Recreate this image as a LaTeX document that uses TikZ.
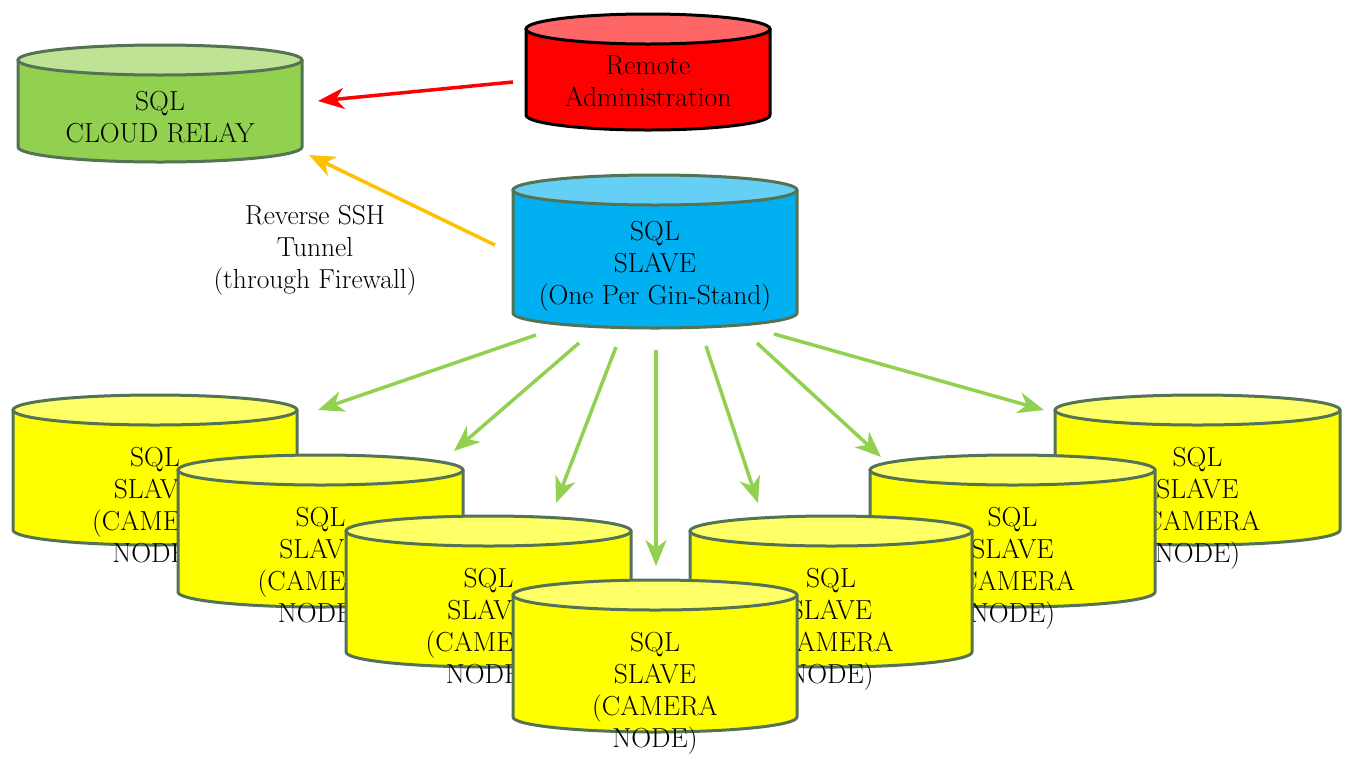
\documentclass[tikz,border=0pt]{standalone}
\usetikzlibrary{arrows.meta}
\definecolor{cborder}{RGB}{84,114,84}
\definecolor{cgreen}{HTML}{92D050}
\definecolor{cgreentop}{HTML}{BEE395}
\definecolor{cred}{HTML}{FF0000}
\definecolor{credtop}{HTML}{FF6666}
\definecolor{cblue}{HTML}{00B0F0}
\definecolor{cbluetop}{HTML}{66CFF5}
\definecolor{cyel}{HTML}{FFFF00}
\definecolor{cyeltop}{HTML}{FFFF66}
\definecolor{corange}{HTML}{FFC000}
\newcommand\dbcyl[7]{% #1 L, #2 R, #3 top, #4 bottom, #5 body, #6 top fill, #7 border
  \pgfmathsetmacro\cylcx{(#1+#2)/2}%
  \pgfmathsetmacro\cylrx{(#2-#1)/2}%
  \pgfmathsetmacro\cylyt{#3+15}%
  \pgfmathsetmacro\cylyb{#4-15}%
  \filldraw[draw=#7, fill=#5, line width=3pt, line join=round]
    (#1,\cylyt) -- (#1,\cylyb) arc[start angle=180, end angle=0, x radius=\cylrx, y radius=15]
    -- (#2,\cylyt) -- cycle;
  \filldraw[draw=#7, fill=#6, line width=3pt] (\cylcx,\cylyt) ellipse[x radius=\cylrx, y radius=15];
}
\tikzset{
  lbl/.style={align=center, inner sep=0pt, font=\fontsize{27.5}{32}\selectfont},
  conn/.style={line width=3.5pt, -{Stealth[length=26pt, width=21pt, inset=8pt]}},
}
\begin{document}
\begin{tikzpicture}[x=1pt, y=1pt, yscale=-1]
\useasboundingbox (0,0) rectangle (1351,756);

% cloud relay
\dbcyl{18}{302}{45}{162}{cgreen}{cgreentop}{cborder}
\node[lbl] (cloud) at (160,117) {SQL\\CLOUD RELAY};
% remote administration
\dbcyl{526}{770}{14}{130}{cred}{credtop}{black}
\node[lbl] (remote) at (648,81) {Remote\\Administration};
% master slave
\dbcyl{513}{797}{175}{328}{cblue}{cbluetop}{cborder}
\node[lbl] (slave) at (655,266) {SQL\\SLAVE\\(One Per Gin-Stand)};

% tunnel label
\node[lbl] (tunnel) at (315,250) {Reverse SSH\\Tunnel\\(through Firewall)};

% camera nodes
\dbcyl{13}{297}{395}{545}{cyel}{cyeltop}{cborder}
\node[lbl] (cam1) at (155,508) {SQL\\SLAVE\\(CAMERA\\NODE)};
\dbcyl{1055}{1340}{395}{545}{cyel}{cyeltop}{cborder}
\node[lbl] (cam7) at (1197.5,508) {SQL\\SLAVE\\(CAMERA\\NODE)};
\dbcyl{178}{463}{455}{607}{cyel}{cyeltop}{cborder}
\node[lbl] (cam2) at (320.5,568) {SQL\\SLAVE\\(CAMERA\\NODE)};
\dbcyl{870}{1155}{455}{607}{cyel}{cyeltop}{cborder}
\node[lbl] (cam6) at (1012.5,568) {SQL\\SLAVE\\(CAMERA\\NODE)};
\dbcyl{346}{631}{516}{667}{cyel}{cyeltop}{cborder}
\node[lbl] (cam3) at (488.5,629) {SQL\\SLAVE\\(CAMERA\\NODE)};
\dbcyl{690}{972}{516}{667}{cyel}{cyeltop}{cborder}
\node[lbl] (cam5) at (831,629) {SQL\\SLAVE\\(CAMERA\\NODE)};
\dbcyl{513}{797}{580}{732}{cyel}{cyeltop}{cborder}
\node[lbl] (cam4) at (655,693) {SQL\\SLAVE\\(CAMERA\\NODE)};

% arrow end points
\coordinate (rs) at (513,82);   \coordinate (re) at (318,101);
\coordinate (os) at (495,245);  \coordinate (oe) at (309,155);
\coordinate (s1) at (536,335);  \coordinate (e1) at (318,410);
\coordinate (s2) at (579,343);  \coordinate (e2) at (454,451);
\coordinate (s3) at (616,347);  \coordinate (e3) at (556,503);
\coordinate (s4) at (656,350);  \coordinate (e4) at (656,566);
\coordinate (s5) at (706,346);  \coordinate (e5) at (758,503);
\coordinate (s6) at (757,343);  \coordinate (e6) at (881,457);
\coordinate (s7) at (774,334);  \coordinate (e7) at (1044,410);

\draw[conn, cred] (rs) -- (re);
\draw[conn, corange] (os) -- (oe);
\foreach \i in {1,...,7} {\draw[conn, cgreen] (s\i) -- (e\i);}
\end{tikzpicture}
\end{document}
